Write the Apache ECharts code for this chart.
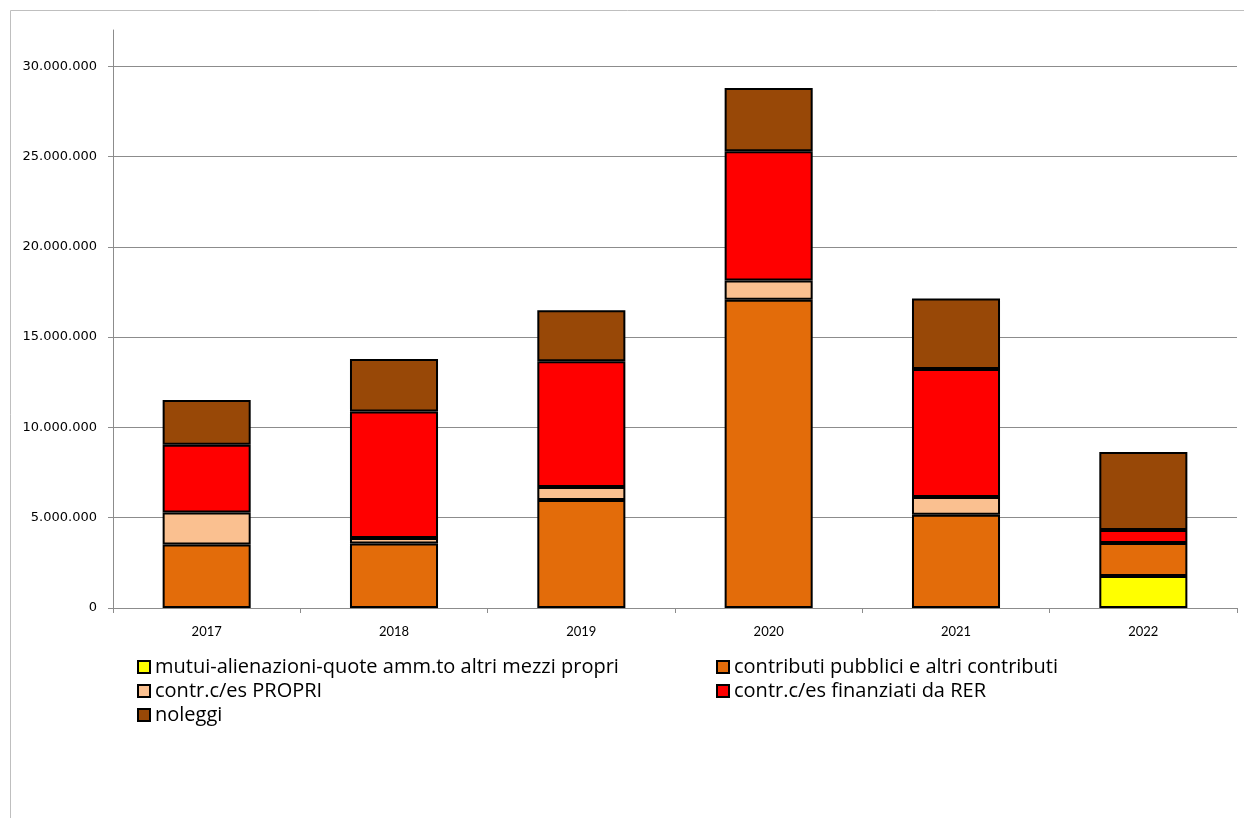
<!DOCTYPE html>
<html>
<head>
<meta charset="utf-8">
<script src="https://cdn.jsdelivr.net/npm/echarts@6/dist/echarts.min.js"></script>
<style>
  html, body { margin: 0; padding: 0; background: #fff; }
  #chart { width: 1244px; height: 818px; }
</style>
</head>
<body>
<div id="chart"></div>
<script>
const years = ["2017", "2018", "2019", "2020", "2021", "2022"];

// valori (euro)
const mutui = [0, 0, 0, 0, 0, 1770000];
const contributiPubblici = [3520000, 3570000, 5980000, 17060000, 5160000, 1830000];
const contrPropri = [1770000, 300000, 720000, 1070000, 990000, 0];
const contrRER = [3750000, 7010000, 6960000, 7160000, 7080000, 720000];
const noleggi = [2480000, 2910000, 2830000, 3500000, 3910000, 4310000];

const names = [
  "mutui-alienazioni-quote amm.to altri mezzi propri",
  "contributi pubblici e altri contributi",
  "contr.c/es PROPRI",
  "contr.c/es finanziati da RER",
  "noleggi",
];
const colors = ["#FFFF00", "#E36C0A", "#FAC090", "#FF0000", "#984807"];

const fmt = (v) => String(Math.round(v)).replace(/\B(?=(\d{3})+(?!\d))/g, ".");

const legendText = { fontFamily: "Open Sans", fontSize: 20, color: "#000" };

const chart = echarts.init(document.getElementById("chart"));

chart.setOption({
  animation: false,
  graphic: [
    {
      type: "rect",
      shape: { x: 10.5, y: 10.5, width: 1400, height: 1000 },
      style: { fill: "none", stroke: "#bfbfbf", lineWidth: 1 },
      silent: true,
    },
  ],
  legend: [
    {
      data: [names[0], names[2], names[4]],
      orient: "vertical",
      left: 132,
      top: 652,
      icon: "rect",
      itemWidth: 12,
      itemHeight: 12,
      itemGap: 4,
      textStyle: legendText,
    },
    {
      data: [names[1], names[3]],
      orient: "vertical",
      left: 711,
      top: 652,
      icon: "rect",
      itemWidth: 12,
      itemHeight: 12,
      itemGap: 4,
      textStyle: legendText,
    },
  ],
  grid: { left: 113, right: 7, top: 30, bottom: 210, containLabel: false },
  xAxis: {
    type: "category",
    data: years,
    axisLine: { lineStyle: { color: "#8c8c8c", width: 1 } },
    axisTick: { show: true, length: 5, lineStyle: { color: "#8c8c8c" } },
    axisLabel: { fontFamily: "Lato", fontSize: 13, color: "#000", margin: 17 },
  },
  yAxis: {
    type: "value",
    min: 0,
    max: 32000000,
    interval: 5000000,
    axisLine: { show: true, lineStyle: { color: "#8c8c8c", width: 1 } },
    axisTick: { show: true, length: 5, lineStyle: { color: "#8c8c8c" } },
    axisLabel: {
      fontFamily: "DejaVu Sans",
      fontSize: 13,
      color: "#000",
      margin: 16,
      showMaxLabel: false,
      formatter: fmt,
    },
    splitLine: { show: true, showMaxLine: false, lineStyle: { color: "#8c8c8c", width: 1 } },
  },
  series: [mutui, contributiPubblici, contrPropri, contrRER, noleggi].map((data, i) => ({
    name: names[i],
    type: "bar",
    stack: "tot",
    // i segmenti a zero non si disegnano
    data: data.map((v) => (v === 0 ? "-" : v)),
    barWidth: "47%",
    itemStyle: { color: colors[i], borderColor: "#000", borderWidth: 2 },
  })),
});
</script>
</body>
</html>
